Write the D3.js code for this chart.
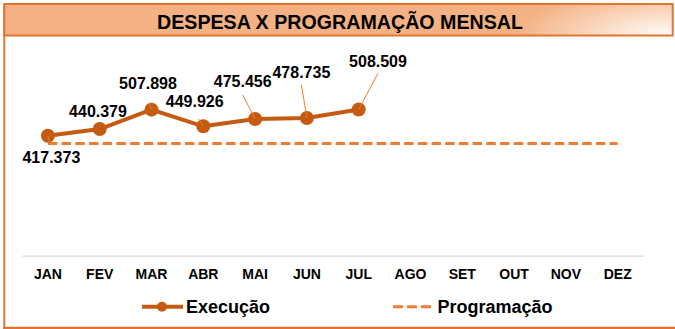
<!DOCTYPE html>
<html>
<head>
<meta charset="utf-8">
<script src="https://cdn.jsdelivr.net/npm/d3@7/dist/d3.min.js"></script>
<style>
  html, body { margin: 0; padding: 0; background: #fff; }
  svg { display: block; font-family: "Liberation Sans", Arial, sans-serif; }
</style>
</head>
<body>
<svg id="chart" width="675" height="329"></svg>
<script>
// Monthly spending vs. planned amount
const titleText = "DESPESA X PROGRAMAÇÃO MENSAL";
const months = ["JAN", "FEV", "MAR", "ABR", "MAI", "JUN", "JUL", "AGO", "SET", "OUT", "NOV", "DEZ"];
const execucao = [417.373, 440.379, 507.898, 449.926, 475.456, 478.735, 508.509];
const programacao = [390, 390, 390, 390, 390, 390, 390, 390, 390, 390, 390, 390];
const seriesNames = ["Execução", "Programação"];

// label placement: offset of label (centre, baseline) from its point,
// and leader end relative to the label anchor (null = no leader)
const labelOffsets = [
  { dx: 3.5, dy: 27.3, lead: [-1.7, -19.7] },
  { dx: -1.7, dy: -12, lead: null },
  { dx: -3.5, dy: -20.4, lead: [1, 13.4] },
  { dx: -8.6, dy: -19.6, lead: [4, 12.3] },
  { dx: -12.4, dy: -32.3, lead: [0, 8.3] },
  { dx: -5.5, dy: -39.8, lead: [0, 6.7] },
  { dx: 19.3, dy: -42.8, lead: [0, 6.6] }
];

const fmt = v => v.toFixed(3);

const svg = d3.select("#chart");
const border = "#E2742F";
const execColor = "#C55A11";
const progColor = "#ED7D31";

// title banner gradient
const defs = svg.append("defs");
const grad = defs.append("radialGradient")
  .attr("id", "titleGrad")
  .attr("gradientUnits", "userSpaceOnUse")
  .attr("cx", 0).attr("cy", 0).attr("r", 160)
  .attr("gradientTransform", "translate(673,36) scale(1,0.3)");
grad.append("stop").attr("offset", 0).attr("stop-color", "#FFFFFF");
grad.append("stop").attr("offset", 0.4).attr("stop-color", "#FBE0CC");
grad.append("stop").attr("offset", 1).attr("stop-color", "#F4B183");

// frame: left and bottom edges
svg.append("line").attr("x1", 4.3).attr("x2", 4.3).attr("y1", 4).attr("y2", 329)
  .attr("stroke", border).attr("stroke-width", 2);
svg.append("line").attr("x1", 3.3).attr("x2", 675).attr("y1", 328).attr("y2", 328)
  .attr("stroke", border).attr("stroke-width", 2.4);

// title banner
svg.append("rect").attr("x", 4.3).attr("y", 4).attr("width", 668.4).attr("height", 31.5)
  .attr("fill", "url(#titleGrad)").attr("stroke", border).attr("stroke-width", 2);
svg.append("text").attr("x", 340).attr("y", 28.5)
  .attr("text-anchor", "middle").attr("font-size", 20.5).attr("font-weight", "bold")
  .attr("textLength", 366).attr("lengthAdjust", "spacingAndGlyphs")
  .attr("fill", "#000").text(titleText);

// scales
const x = d3.scaleBand().domain(months).range([22, 643.6]).padding(0);
const cx = m => x(m) + x.bandwidth() / 2;
const y = d3.scaleLinear().domain([0, 700]).range([255.7, 54.4]);

// category axis
const axis = svg.append("g").attr("transform", `translate(0,${y(0)})`)
  .call(d3.axisBottom(x).tickSize(0).tickPadding(13.4));
axis.select(".domain").attr("stroke", "#D9D9D9").attr("stroke-width", 1.2);
axis.selectAll("text").attr("font-size", 14).attr("font-weight", "bold")
  .attr("fill", "#000").attr("font-family", "Liberation Sans, Arial, sans-serif");

// planned series (dashed)
const progLine = d3.line().x((d, i) => cx(months[i])).y(d => y(d));
svg.append("path").datum(programacao).attr("d", progLine)
  .attr("fill", "none").attr("stroke", progColor).attr("stroke-width", 3)
  .attr("stroke-dasharray", "9.5,4.2");

// executed series
const execLine = d3.line().x((d, i) => cx(months[i])).y(d => y(d));
svg.append("path").datum(execucao).attr("d", execLine)
  .attr("fill", "none").attr("stroke", execColor).attr("stroke-width", 4)
  .attr("stroke-linejoin", "round");
svg.selectAll("circle.pt").data(execucao).join("circle").attr("class", "pt")
  .attr("cx", (d, i) => cx(months[i])).attr("cy", d => y(d)).attr("r", 7)
  .attr("fill", execColor);

// data labels with leaders
execucao.forEach((v, i) => {
  const o = labelOffsets[i];
  const px = cx(months[i]), py = y(v);
  const lx = px + o.dx, ly = py + o.dy;
  if (o.lead) {
    svg.append("line").attr("x1", px).attr("y1", py)
      .attr("x2", lx + o.lead[0]).attr("y2", ly + o.lead[1])
      .attr("stroke", progColor).attr("stroke-width", 1);
  }
  svg.append("text").attr("x", lx).attr("y", ly).attr("text-anchor", "middle")
    .attr("font-size", 16).attr("font-weight", "bold").attr("fill", "#000")
    .text(fmt(v));
});

// legend
const lg = svg.append("g");
lg.append("line").attr("x1", 142).attr("x2", 183).attr("y1", 306.7).attr("y2", 306.7)
  .attr("stroke", execColor).attr("stroke-width", 4);
lg.append("circle").attr("cx", 162).attr("cy", 306.7).attr("r", 5).attr("fill", execColor);
lg.append("text").attr("x", 186).attr("y", 313.3).attr("font-size", 18)
  .attr("font-weight", "bold").attr("fill", "#000").text(seriesNames[0]);
lg.append("line").attr("x1", 393).attr("x2", 431).attr("y1", 306.7).attr("y2", 306.7)
  .attr("stroke", progColor).attr("stroke-width", 3).attr("stroke-dasharray", "10,4");
lg.append("text").attr("x", 437.5).attr("y", 313.3).attr("font-size", 18)
  .attr("font-weight", "bold").attr("fill", "#000").text(seriesNames[1]);
</script>
</body>
</html>
